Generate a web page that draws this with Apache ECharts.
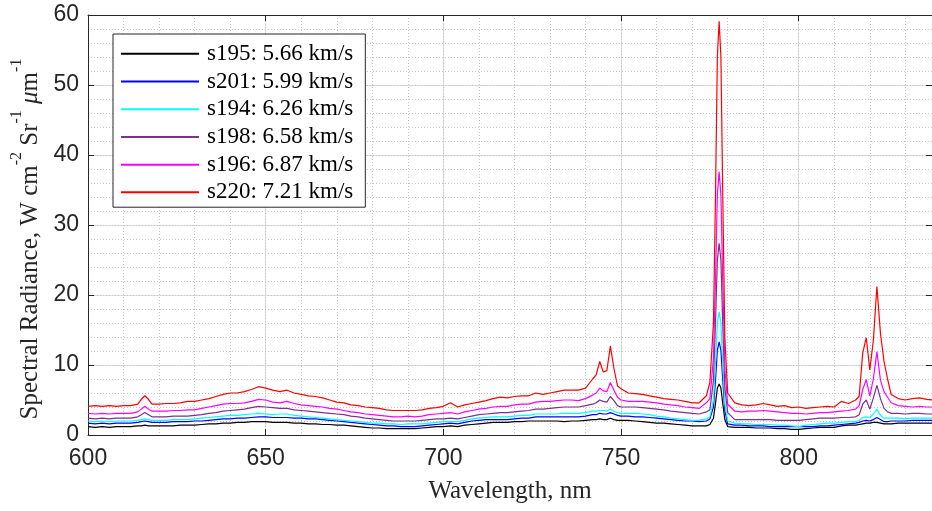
<!DOCTYPE html>
<html>
<head>
<meta charset="utf-8">
<script src="https://cdn.jsdelivr.net/npm/echarts@6/dist/echarts.min.js"></script>
<style>
html,body{margin:0;padding:0;background:#fff;}
#chart{width:932px;height:511px;}
</style>
</head>
<body>
<div id="chart"></div>
<script>
// Wavelength samples (nm)
var wavelengths = [
  600,602,604,606,608,610,612,614,
  615,616,617,
  618,620,622,624,626,628,630,632,634,636,
  638,640,642,644,646,648,650,652,654,656,
  658,660,662,664,666,668,670,672,674,676,
  678,680,682,684,686,688,690,692,694,696,
  698,700,702,704,706,708,710,712,714,716,
  718,720,722,724,726,728,730,732,734,736,
  738,740,
  742,743,744,745,746,747,748,749,
  750,752,754,756,758,760,762,764,766,768,770,772,774,
  775,776,776.6,777.1,777.6,778.1,778.6,779.2,
  780,782,784,786,788,790,792,794,796,798,800,802,804,806,808,810,812,814,816,
  817,818,819,820,821,822,823,824,825,
  826,828,830,832,834,836,838
];

var s195 = [
  1.2,1.1,1.2,1.1,1.2,1.2,1.2,1.3,
  1.3,1.4,1.3,
  1.3,1.3,1.3,1.3,1.4,1.4,1.4,1.5,1.6,1.6,
  1.7,1.7,1.8,1.8,1.9,1.9,1.9,1.8,1.8,1.8,
  1.7,1.7,1.6,1.6,1.5,1.5,1.4,1.4,1.3,1.2,
  1.1,1.0,1.0,0.9,0.9,0.9,0.9,0.9,1.0,1.1,
  1.2,1.2,1.3,1.2,1.4,1.5,1.6,1.7,1.8,1.8,
  1.8,1.9,1.9,2.0,2.0,2.0,2.0,2.0,1.9,2.0,
  2.0,2.1,
  2.2,2.2,2.3,2.2,2.2,2.4,2.2,2.1,
  2.1,2.1,2.0,1.9,1.8,1.7,1.7,1.6,1.5,1.4,1.3,1.3,1.3,
  1.5,2.4,4.6,6.7,7.3,6.7,4.6,2.2,
  1.2,1.1,1.1,1.1,1.0,1.0,1.0,0.9,0.9,0.8,0.8,0.9,1.0,1.1,1.1,1.1,1.3,1.4,1.4,
  1.5,1.6,1.7,1.7,1.8,1.8,1.7,1.6,1.6,
  1.6,1.7,1.7,1.7,1.7,1.7,1.7
];

var s201 = [
  1.7,1.6,1.7,1.6,1.7,1.7,1.7,1.8,
  1.9,2.0,1.9,
  1.8,1.8,1.8,1.9,1.9,1.9,2.0,2.0,2.1,2.2,
  2.3,2.3,2.4,2.4,2.5,2.6,2.6,2.5,2.5,2.5,
  2.4,2.4,2.3,2.3,2.2,2.1,2.0,1.9,1.8,1.7,
  1.6,1.5,1.4,1.3,1.3,1.2,1.2,1.2,1.3,1.4,
  1.5,1.6,1.7,1.6,1.8,2.0,2.1,2.2,2.2,2.2,
  2.2,2.3,2.4,2.4,2.6,2.6,2.6,2.6,2.6,2.6,
  2.6,2.7,
  2.9,2.9,3.1,3.0,3.0,3.2,3.0,2.8,
  2.7,2.7,2.6,2.6,2.5,2.4,2.3,2.2,2.1,2.0,2.0,1.9,2.0,
  2.3,4.0,8.0,12.1,13.3,12.1,8.0,3.5,
  1.6,1.4,1.4,1.3,1.3,1.3,1.2,1.2,1.2,1.2,1.2,1.2,1.2,1.3,1.3,1.4,1.5,1.6,1.7,
  1.8,2.0,2.1,2.0,2.2,2.5,2.2,1.9,1.9,
  2.0,2.0,2.0,2.1,2.1,2.1,2.1
];

var s194 = [
  2.0,1.9,2.0,1.9,2.0,2.0,2.0,2.1,
  2.2,2.3,2.2,
  2.1,2.1,2.1,2.2,2.2,2.2,2.3,2.4,2.5,2.6,
  2.7,2.8,2.8,2.9,3.0,3.1,3.0,2.9,3.0,3.0,
  2.8,2.7,2.6,2.5,2.4,2.3,2.2,2.1,2.0,1.9,
  1.8,1.7,1.7,1.6,1.6,1.5,1.6,1.6,1.6,1.7,
  1.8,1.9,1.9,1.9,2.1,2.3,2.4,2.5,2.6,2.6,
  2.6,2.7,2.8,2.8,3.0,3.0,3.0,3.0,3.1,3.1,
  3.1,3.2,
  3.4,3.4,3.5,3.5,3.4,3.7,3.4,3.2,
  3.1,3.1,3.1,3.0,2.9,2.7,2.6,2.4,2.3,2.2,2.1,2.1,2.3,
  2.6,5.0,10.5,16.0,17.6,16.0,10.4,4.4,
  2.0,1.7,1.6,1.6,1.5,1.5,1.5,1.4,1.4,1.3,1.2,1.4,1.5,1.6,1.7,1.7,1.8,1.9,1.9,
  2.1,2.5,2.6,2.5,3.0,3.7,2.8,2.4,2.4,
  2.4,2.4,2.3,2.4,2.4,2.4,2.4
];

var s198 = [
  2.4,2.3,2.4,2.3,2.4,2.4,2.4,2.6,
  2.9,3.2,2.9,
  2.6,2.6,2.6,2.7,2.7,2.7,2.8,2.9,3.1,3.2,
  3.4,3.5,3.6,3.7,3.9,4.1,4.0,3.9,3.8,3.8,
  3.6,3.5,3.4,3.3,3.2,3.1,3.0,2.9,2.7,2.6,
  2.4,2.3,2.2,2.1,2.0,2.0,2.0,2.0,2.1,2.2,
  2.3,2.3,2.4,2.3,2.5,2.7,2.9,3.0,3.1,3.2,
  3.2,3.3,3.4,3.5,3.7,3.7,3.8,3.9,4.0,4.0,
  4.0,4.2,
  4.4,4.6,5.0,4.8,4.7,5.5,4.9,4.2,
  4.0,4.0,4.0,3.9,3.8,3.7,3.6,3.4,3.3,3.2,3.1,3.0,3.3,
  3.6,7.8,16.4,25.0,27.4,25.0,16.2,6.8,
  3.2,2.2,2.2,2.2,2.2,2.2,2.2,2.1,2.1,2.1,2.1,2.2,2.3,2.4,2.4,2.4,2.5,2.5,2.6,
  2.9,4.4,5.0,3.7,5.3,7.1,5.2,3.8,3.3,
  3.1,3.1,3.0,3.1,3.1,3.0,3.0
];

var s196 = [
  3.1,3.0,3.1,3.0,3.1,3.1,3.1,3.3,
  3.7,4.1,3.7,
  3.4,3.4,3.4,3.5,3.5,3.6,3.6,3.8,4.0,4.2,
  4.4,4.5,4.5,4.6,4.8,5.1,5.0,4.7,4.6,4.8,
  4.5,4.3,4.2,4.1,4.0,3.8,3.7,3.5,3.3,3.2,
  3.0,2.9,2.8,2.7,2.6,2.6,2.7,2.6,2.7,2.9,
  3.0,3.1,3.2,3.0,3.3,3.5,3.7,3.8,4.0,4.1,
  4.1,4.3,4.4,4.4,4.7,4.8,4.8,4.9,5.0,5.0,
  4.9,5.2,
  5.7,6.0,6.7,6.3,6.2,7.5,6.4,5.4,
  5.0,4.8,4.8,4.8,4.7,4.6,4.4,4.3,4.2,4.0,3.9,3.8,4.6,
  5.2,11.0,22.6,34.3,37.6,34.3,22.4,9.6,
  4.4,3.4,3.3,3.4,3.4,3.5,3.4,3.3,3.2,3.1,3.1,3.0,3.1,3.2,3.2,3.3,3.4,3.5,3.7,
  4.2,6.5,7.9,5.6,8.0,11.9,7.8,6.2,5.4,
  4.6,4.2,4.1,4.0,4.1,4.0,4.0
];

var s220 = [
  4.1,4.2,4.1,4.2,4.1,4.2,4.2,4.4,
  5.1,5.6,5.1,
  4.4,4.4,4.5,4.5,4.6,4.8,4.8,5.0,5.2,5.5,
  5.8,6.0,6.0,6.2,6.5,6.9,6.7,6.4,6.2,6.4,
  6.0,5.8,5.6,5.5,5.3,5.0,4.7,4.6,4.3,4.2,
  4.0,3.9,3.8,3.6,3.5,3.5,3.5,3.5,3.6,3.8,
  3.9,4.1,4.6,4.0,4.3,4.5,4.7,4.9,5.2,5.4,
  5.3,5.5,5.6,5.6,6.0,5.8,6.0,6.2,6.4,6.4,
  6.4,6.7,
  8.0,8.6,10.5,9.0,9.2,12.7,9.5,7.0,
  6.6,6.0,5.9,5.8,5.6,5.4,5.2,5.1,5.0,4.8,4.6,4.6,5.6,
  7.5,16.0,35.0,54.0,59.1,54.0,35.0,14.0,
  6.0,4.6,4.3,4.2,4.3,4.5,4.3,4.1,4.2,3.9,4.0,3.8,3.9,4.0,4.1,4.0,4.8,4.5,5.0,
  5.5,11.7,13.9,9.3,13.5,21.2,14.5,10.5,8.0,
  5.8,5.2,5.0,5.2,5.3,5.1,5.0
];

var seriesNames = ['s195: 5.66 km/s','s201: 5.99 km/s','s194: 6.26 km/s','s198: 6.58 km/s','s196: 6.87 km/s','s220: 7.21 km/s'];
var seriesValues = [s195, s201, s194, s198, s196, s220];
var seriesColors = ['#000000','#0000ff','#00ffff','#7e2f8e','#ff00ff','#ff0000'];
var xTicks = [600, 650, 700, 750, 800];
var yTicks = [0, 10, 20, 30, 40, 50, 60];

var chart = echarts.init(document.getElementById('chart'), null, {renderer: 'canvas'});

var axisColor = '#262626';
var sans = 'Liberation Sans, Arial, sans-serif';
var serif = 'Liberation Serif, Times New Roman, serif';
var xMax = 837.5;

var series = seriesNames.map(function (name, i) {
  return {
    name: name,
    type: 'line',
    xAxisIndex: 0,
    yAxisIndex: 0,
    symbol: 'none',
    showSymbol: false,
    smooth: false,
    lineStyle: {color: seriesColors[i], width: 1.2},
    itemStyle: {color: seriesColors[i]},
    data: wavelengths.map(function (w, k) { return [w, seriesValues[i][k]]; }),
    z: 3 + i
  };
});

var option = {
  animation: false,
  backgroundColor: '#ffffff',
  grid: {left: 88, right: 0, top: 15, bottom: 76, outerBoundsMode: 'none', containLabel: false},
  legend: {
    show: true,
    orient: 'vertical',
    left: 113,
    top: 34,
    padding: [6, 12, 1, 8],
    itemGap: 0,
    itemWidth: 78,
    itemHeight: 2,
    icon: 'rect',
    backgroundColor: '#ffffff',
    borderColor: axisColor,
    borderWidth: 1,
    borderRadius: 0,
    textStyle: {fontFamily: serif, fontSize: 23, color: '#000000', lineHeight: 27.7, padding: [0, 0, 0, 3]},
    data: seriesNames
  },
  xAxis: [
    {
      type: 'value', min: 600, max: xMax, interval: 50, position: 'bottom',
      axisLine: {show: true, onZero: false, lineStyle: {color: axisColor, width: 1}},
      axisTick: {show: true, inside: true, length: 6, lineStyle: {color: axisColor}},
      axisLabel: {
        show: true, margin: 12, color: axisColor, fontFamily: sans, fontSize: 23,
        showMaxLabel: false,
        formatter: function (v) { return xTicks.indexOf(v) >= 0 ? String(v) : ''; }
      },
      splitLine: {show: true, lineStyle: {color: '#dedede', width: 1, type: 'solid'}},
      name: 'Wavelength, nm',
      nameLocation: 'middle',
      nameGap: 44,
      nameTextStyle: {fontFamily: serif, fontSize: 25, color: axisColor}
    },
    {
      type: 'value', min: 600, max: xMax, interval: 50, position: 'top',
      axisLine: {show: true, onZero: false, lineStyle: {color: axisColor, width: 1}},
      axisTick: {show: true, inside: true, length: 6, lineStyle: {color: axisColor}},
      axisLabel: {show: false},
      splitLine: {show: false}
    },
    {
      type: 'value', min: 600, max: xMax, interval: 10, position: 'bottom',
      axisLine: {show: false}, axisTick: {show: false}, axisLabel: {show: false},
      splitLine: {show: true, lineStyle: {color: '#c4c4c4', width: 1, type: [1, 2]}}
    }
  ],
  yAxis: [
    {
      type: 'value', min: 0, max: 60, interval: 10, position: 'left',
      axisLine: {show: true, onZero: false, lineStyle: {color: axisColor, width: 1}},
      axisTick: {show: true, inside: true, length: 6, lineStyle: {color: axisColor}},
      axisLabel: {
        show: true, margin: 9, color: axisColor, fontFamily: sans, fontSize: 23,
        formatter: function (v) { return yTicks.indexOf(v) >= 0 ? String(v) : ''; }
      },
      splitLine: {show: true, lineStyle: {color: '#dedede', width: 1, type: 'solid'}},
      name: '{n|Spectral Radiance, W cm}{s|-2}{n| Sr}{s|-1}{n| }{i|μ}{n|m}{s|-1}{g|}',
      nameLocation: 'middle',
      nameGap: 42,
      nameRotate: 90,
      nameTextStyle: {
        fontFamily: serif, fontSize: 25, color: axisColor,
        rich: {
          n: {fontFamily: serif, fontSize: 25, color: axisColor, lineHeight: 34, verticalAlign: 'bottom'},
          i: {fontFamily: serif, fontSize: 25, fontStyle: 'italic', color: axisColor, lineHeight: 34, verticalAlign: 'bottom'},
          s: {fontFamily: serif, fontSize: 16, color: axisColor, lineHeight: 18, verticalAlign: 'top'},
          g: {width: 28, lineHeight: 34}
        }
      }
    },
    {
      type: 'value', min: 0, max: 60, interval: 10, position: 'right',
      axisLine: {show: true, onZero: false, lineStyle: {color: axisColor, width: 1}},
      axisTick: {show: true, inside: true, length: 6, lineStyle: {color: axisColor}},
      axisLabel: {show: false},
      splitLine: {show: false}
    },
    {
      type: 'value', min: 0, max: 60, interval: 2, position: 'left',
      axisLine: {show: false}, axisTick: {show: false}, axisLabel: {show: false},
      splitLine: {show: true, lineStyle: {color: '#c4c4c4', width: 1, type: [1, 2]}}
    }
  ],
  series: series
};

chart.setOption(option);
</script>
</body>
</html>
